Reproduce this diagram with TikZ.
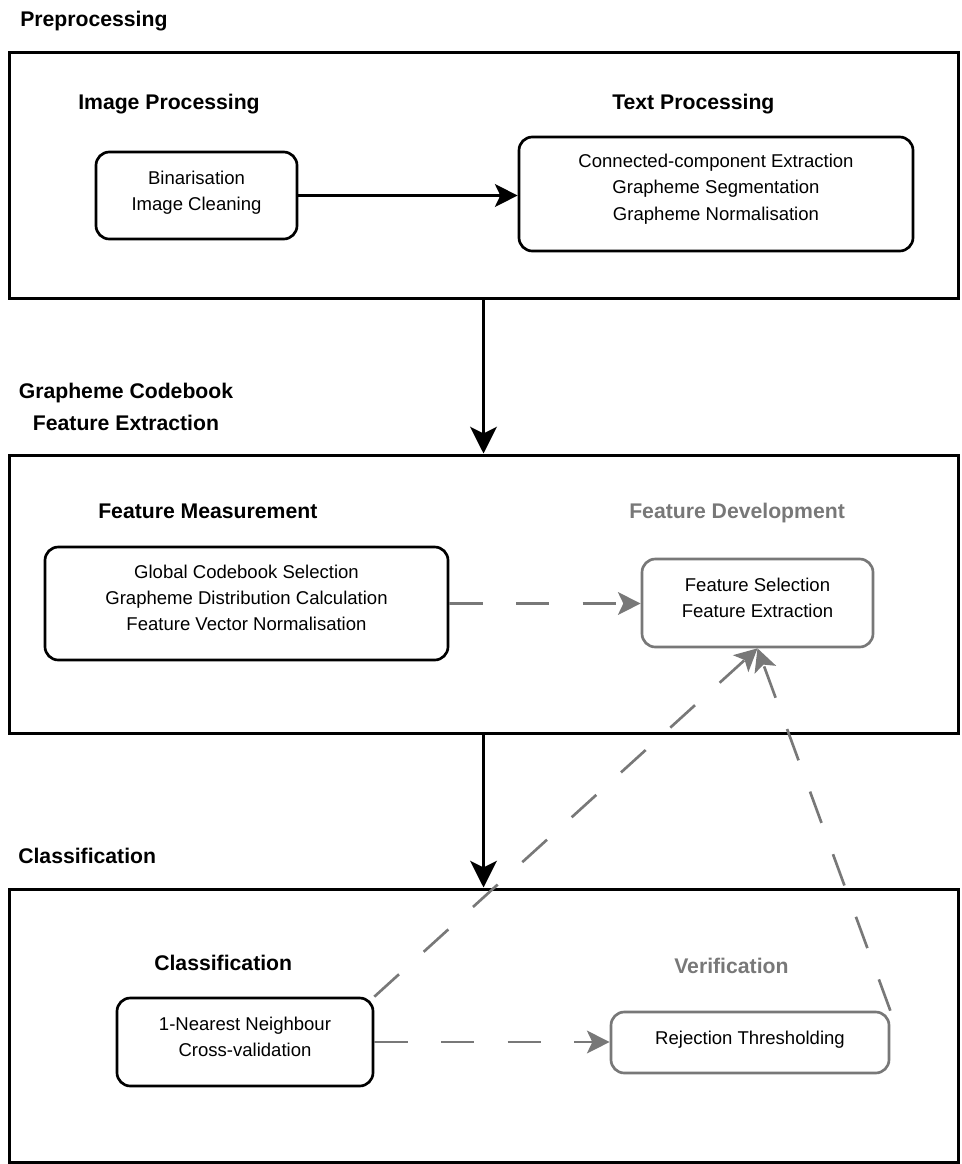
\documentclass[tikz,border=0pt]{standalone}
\usepackage{fontspec}
\setmainfont{Liberation Sans}
\usetikzlibrary{arrows.meta}
\definecolor{dgray}{RGB}{120,120,120}
\begin{document}
\begin{tikzpicture}[x=0.75pt,y=-0.75pt,
  outerbox/.style={draw=black,line width=2.25pt,inner sep=0pt,minimum width=711.75pt},
  blackbox/.style={draw=black,line width=2pt,rounded corners=10pt,inner sep=0pt},
  graybox/.style={draw=dgray,line width=2pt,rounded corners=10pt,inner sep=0pt},
  btext/.style={font=\fontsize{13.9}{19.7}\selectfont,align=center,inner sep=0pt},
  head/.style={font=\fontsize{15.9}{24}\selectfont\bfseries,inner sep=0pt,anchor=base west},
  grayhead/.style={head,text=dgray},
  vertarrow/.style={line width=2.5pt,-{Stealth[length=20pt,width=20pt,inset=5pt]}},
  horarrow/.style={line width=2.4pt,-{Stealth[length=17pt,width=17pt,inset=4pt]}},
  dasharrow/.style={draw=dgray,line width=2pt,dash pattern=on 25pt off 25pt,
    -{Stealth[length=17pt,width=17pt,inset=4pt,fill=dgray]}}
]
\useasboundingbox (0,0) rectangle (961,1164);

% outer frames
\node[outerbox,minimum height=184.5pt] (pre) at (483.5,175) {};
\node[outerbox,minimum height=208.5pt] (gcf) at (483.5,594) {};
\node[outerbox,minimum height=204.75pt] (cls) at (483.5,1025.5) {};

% headings
\node[head] (hpre) at (20,26) {Preprocessing};
\node[head] (himg) at (78,109.5) {Image Processing};
\node[head] (htxt) at (612,109) {Text Processing};
\node[font=\fontsize{15.9}{24}\selectfont\bfseries,align=center,inner sep=0pt] (hgcf) at (126,407) {Grapheme Codebook\\Feature Extraction};
\node[head] (hfm) at (98,518) {Feature Measurement};
\node[grayhead] (hfd) at (629,518) {Feature Development};
\node[head] (hcls) at (18,863) {Classification};
\node[head] (hcl) at (154,970) {Classification};
\node[grayhead] (hver) at (674,973) {Verification};

% inner boxes
\node[blackbox,minimum width=150.75pt,minimum height=65.25pt] (bin) at (196.5,195.5) {};
\node[btext] (binT) at (196.5,193) {Binarisation\\Image Cleaning};

\node[blackbox,minimum width=295.5pt,minimum height=85.5pt] (tp) at (716,194) {};
\node[btext] (tpT) at (716,189) {Connected-component Extraction\\Grapheme Segmentation\\Grapheme Normalisation};

\node[blackbox,minimum width=302.25pt,minimum height=84.75pt] (fm) at (246.5,603.5) {};
\node[btext] (fmT) at (246.5,598) {Global Codebook Selection\\Grapheme Distribution Calculation\\Feature Vector Normalisation};

\node[graybox,minimum width=173.25pt,minimum height=66pt] (fd) at (757.5,603) {};
\node[btext] (fdT) at (757.5,598) {Feature Selection\\Feature Extraction};

\node[blackbox,minimum width=192pt,minimum height=66pt] (cl) at (245,1042) {};
\node[btext] (clT) at (245,1037) {1-Nearest Neighbour\\Cross-validation};

\node[graybox,minimum width=208.5pt,minimum height=45.75pt] (ver) at (750,1042.5) {};
\node[btext] (verT) at (750,1039.5) {Rejection Thresholding};

% connectors
\draw[horarrow] (bin.east) -- (bin.east -| tp.west);
\draw[vertarrow] (pre.south) -- (gcf.north);
\draw[vertarrow] (gcf.south) -- (cls.north);
\draw[dasharrow] (fm.east) -- (fm.east -| fd.west);
\draw[dasharrow] (cl.east) -- (cl.east -| ver.west);
\draw[dasharrow] (cl.north east) -- (fd.south);
\draw[dasharrow] (ver.north east) -- (fd.south);
\end{tikzpicture}
\end{document}
